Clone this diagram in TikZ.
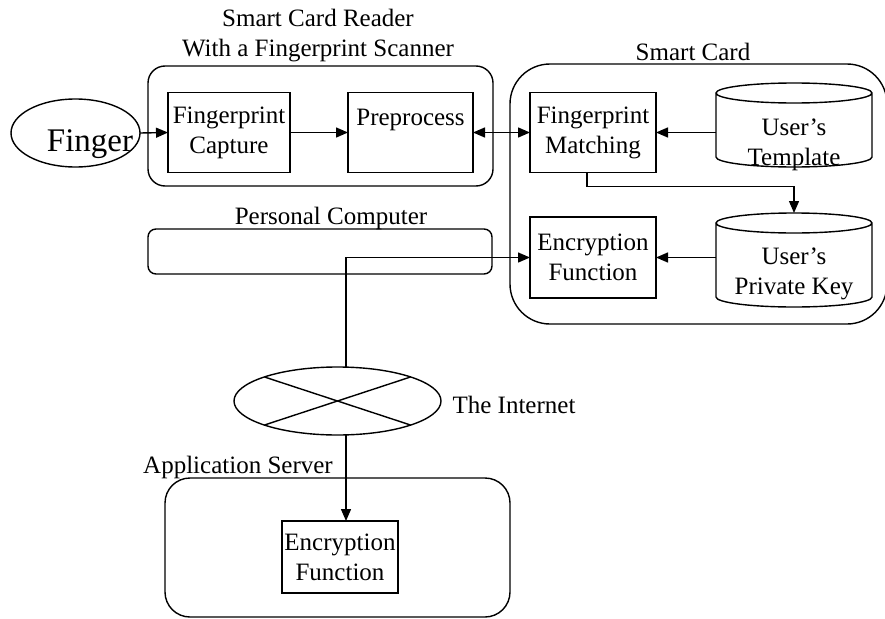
\documentclass[tikz,border=0pt]{standalone}
\usepackage{fontspec}
\setmainfont{Liberation Serif}
\usetikzlibrary{arrows.meta,shapes.geometric,calc}

% outline of a database store: side walls, lower front arc, full top ellipse
\newcommand\drawdbstore[1]{%
  \draw ([yshift=-10pt]#1.north west) -- ([yshift=10pt]#1.south west)
    arc[start angle=180,end angle=360,x radius=78pt,y radius=10pt]
    -- ([yshift=-10pt]#1.north east)
    arc[start angle=0,end angle=360,x radius=78pt,y radius=10pt];}

\begin{document}
\begin{tikzpicture}[x=1pt,y=1pt,
  line width=1.4pt,
  every node/.style={font=\fontsize{25pt}{30pt}\selectfont, inner sep=0pt, outer sep=0pt},
  arr/.style={-{Triangle[length=12pt,width=10pt]}},
  darr/.style={{Triangle[length=12pt,width=10pt]}-{Triangle[length=12pt,width=10pt]}},
  group/.style={draw, rounded corners=#1},
  procbox/.style={draw, align=center, minimum width=#1, minimum height=80pt},
  caption/.style={anchor=base},
  storetext/.style={align=center},
]
\useasboundingbox (0,0) rectangle (885,-618);

% ---- group outlines and their captions
\node[group=17pt, minimum width=345pt, minimum height=120pt] (reader) at (320.5,-126) {};
\node[align=center] (readertitle) at (318,-36) {Smart Card Reader\\With a Fingerprint Scanner};

\node[group=40pt, minimum width=377pt, minimum height=260pt] (card) at (698.5,-194) {};
\node[caption] (cardtitle) at (693,-60) {Smart Card};

\node[group=8pt, minimum width=344pt, minimum height=45pt] (pc) at (320,-251.5) {};
\node[caption] (pctitle) at (331,-224) {Personal Computer};

\node[group=25pt, minimum width=345pt, minimum height=139pt] (server) at (337.5,-547.5) {};
\node[caption] (servertitle) at (238,-473) {Application Server};

% ---- finger
\node[draw, ellipse, minimum width=129pt, minimum height=68pt] (finger) at (75.5,-133) {};
\node[caption, font=\fontsize{33pt}{40pt}\selectfont] (fingertext) at (90,-151) {Finger};

% ---- reader blocks
\node[procbox=122pt] (capture) at (229,-132.5) {Fingerprint\\Capture};
\node[procbox=125pt] (preproc) at (410.5,-132.5) {Preprocess\\\mbox{}};

% ---- smart card blocks
\node[procbox=126pt] (match) at (593,-132.5) {Fingerprint\\Matching};
\node[procbox=126pt, minimum height=81pt] (enc) at (593,-257.5) {Encryption\\Function};

\node[minimum width=156pt, minimum height=84pt] (tmpl) at (794,-125) {};
\drawdbstore{tmpl}
\node[storetext] (tmpltext) at (794,-145) {User’s\\Template};

\node[minimum width=156pt, minimum height=94pt] (priv) at (794,-260) {};
\drawdbstore{priv}
\node[storetext] (privtext) at (794,-274) {User’s\\Private Key};

% ---- the internet
\node[draw, ellipse, minimum width=207pt, minimum height=68pt] (inet) at (337.5,-401) {};
\draw ([shift={(-73pt,24pt)}]inet.center) -- ([shift={(73pt,-24pt)}]inet.center);
\draw ([shift={(-73pt,-24pt)}]inet.center) -- ([shift={(73pt,24pt)}]inet.center);
\node[caption] (inettext) at (514,-413) {The Internet};

% ---- server block
\node[procbox=116pt, minimum height=72pt] (srvenc) at (340,-557) {Encryption\\Function};

% ---- connectors
\draw[arr] (finger.east) -- (capture.west);
\draw[arr] (capture.east) -- (preproc.west);
\draw[darr] (preproc.east) -- (match.west);
\draw[arr] (tmpl.west |- match.east) -- (match.east);
\draw[arr] ([xshift=-6pt]match.south) -- ++(0,-14) -| (priv.north);
\draw[arr] (priv.west |- enc.east) -- (enc.east);
\draw[arr] ([xshift=8.5pt]inet.north) |- (enc.west);
\draw[arr] ([xshift=8.5pt]inet.south) -- ([xshift=8.5pt]inet.south |- srvenc.north);
\end{tikzpicture}
\end{document}
